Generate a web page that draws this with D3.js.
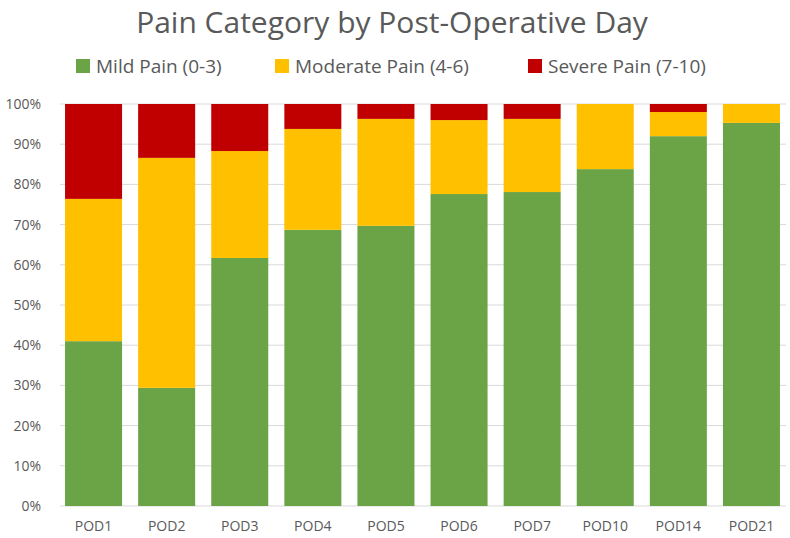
<!DOCTYPE html>
<html>
<head>
<meta charset="utf-8">
<script src="https://cdn.jsdelivr.net/npm/d3@7"></script>
<style>
  body { margin: 0; background: #fff; }
  text { font-family: "Open Sans", "Noto Sans", sans-serif; }
</style>
</head>
<body>
<div id="chart"></div>
<script>
// data (percent)
var days = ['POD1', 'POD2', 'POD3', 'POD4', 'POD5', 'POD6', 'POD7', 'POD10', 'POD14', 'POD21'];
var mild = [41.0, 29.4, 61.7, 68.7, 69.7, 77.6, 78.1, 83.8, 92.0, 95.3];
var moderate = [35.4, 57.2, 26.6, 25.1, 26.6, 18.4, 18.2, 16.2, 6.0, 4.7];
var severe = [23.6, 13.4, 11.7, 6.2, 3.7, 4.0, 3.7, 0, 2.0, 0];
var yTicks = [0, 10, 20, 30, 40, 50, 60, 70, 80, 90, 100];

var seriesNames = ['Mild Pain (0-3)', 'Moderate Pain (4-6)', 'Severe Pain (7-10)'];
var colors = ['#6aa446', '#ffc000', '#c00000'];

var W = 790, H = 538;
var margin = { top: 104, right: 2, bottom: 32, left: 57 };

var svg = d3.select('#chart').append('svg')
  .attr('width', W)
  .attr('height', H);

var x = d3.scaleBand().domain(days).range([margin.left, W - margin.right]).paddingInner(0.22).paddingOuter(0.11);
var y = d3.scaleLinear().domain([0, 100]).range([H - margin.bottom, margin.top]);

// gridlines
svg.append('g')
  .selectAll('line')
  .data(yTicks)
  .enter().append('line')
  .attr('x1', 60)
  .attr('x2', 786)
  .attr('y1', function (d) { return y(d); })
  .attr('y2', function (d) { return y(d); })
  .style('stroke', '#d9d9d9')
  .style('stroke-width', 1);

// stacked bars
var rows = days.map(function (d, i) {
  return { day: d, mild: mild[i], moderate: moderate[i], severe: severe[i] };
});
var stack = d3.stack().keys(['mild', 'moderate', 'severe'])(rows);

svg.append('g')
  .selectAll('g')
  .data(stack)
  .enter().append('g')
  .style('fill', function (d, i) { return colors[i]; })
  .selectAll('rect')
  .data(function (d) { return d; })
  .enter().append('rect')
  .attr('x', function (d) { return x(d.data.day); })
  .attr('width', x.bandwidth())
  .attr('y', function (d) { return y(d[1]); })
  .attr('height', function (d) { return y(d[0]) - y(d[1]); });

// y axis labels
svg.append('g')
  .selectAll('text')
  .data(yTicks)
  .enter().append('text')
  .attr('x', 41)
  .attr('y', function (d) { return y(d) + 5; })
  .style('text-anchor', 'end')
  .style('font-size', '14px')
  .style('fill', '#595959')
  .text(function (d) { return d + '%'; });

// x axis labels
svg.append('g')
  .selectAll('text')
  .data(days)
  .enter().append('text')
  .attr('x', function (d) { return x(d) + x.bandwidth() / 2; })
  .attr('y', H - 7)
  .style('text-anchor', 'middle')
  .style('font-size', '14px')
  .style('fill', '#595959')
  .text(function (d) { return d; });

// title
svg.append('text')
  .attr('x', W / 2 - 3)
  .attr('y', 33)
  .style('text-anchor', 'middle')
  .style('font-size', '30px')
  .style('fill', '#595959')
  .text('Pain Category by Post-Operative Day');

// legend
var legendX = [76, 275, 528];
var legend = svg.append('g')
  .selectAll('g')
  .data(seriesNames)
  .enter().append('g')
  .attr('transform', function (d, i) { return 'translate(' + legendX[i] + ',59)'; });
legend.append('rect')
  .attr('width', 14)
  .attr('height', 14)
  .style('fill', function (d, i) { return colors[i]; });
legend.append('text')
  .attr('x', 20)
  .attr('y', 14)
  .style('font-size', '19px')
  .style('fill', '#595959')
  .text(function (d) { return d; });
</script>
</body>
</html>
